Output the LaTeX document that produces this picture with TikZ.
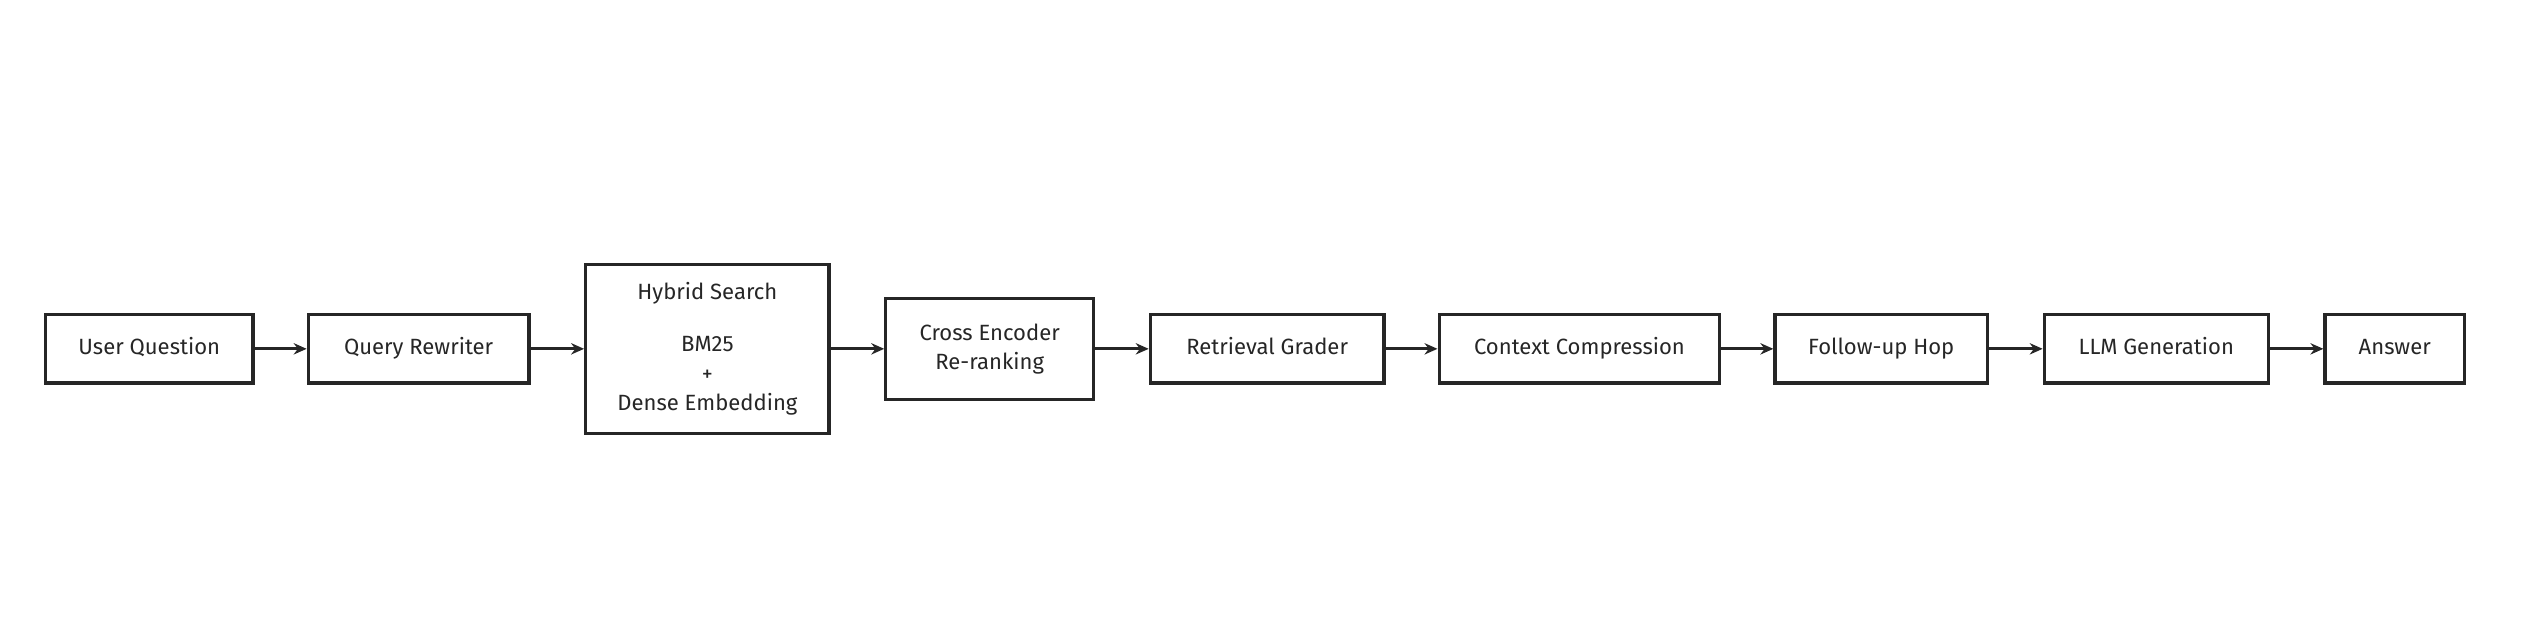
\documentclass[tikz,border=0pt]{standalone}
\usepackage{fontspec}
\setmainfont{Fira Sans}
\usetikzlibrary{arrows.meta}
\begin{document}
\begin{tikzpicture}[x=0.5pt,y=-0.5pt,
  box/.style={draw=black!85,line width=1pt,align=center,font=\fontsize{6.8}{9}\selectfont,text=black!85},
  one/.style={text height=5pt,text depth=1.5pt},
  arr/.style={draw=black!85,line width=1pt,-{Stealth[length=4pt,width=3.5pt]}}]
\useasboundingbox (0,0) rectangle (1568,387);
\def\bx#1#2#3#4#5#6#7{\node[box,#7,minimum width=(#3-#2)*0.5pt,minimum height=(#5-#4)*0.5pt] (#1) at ({(#2+#3)/2},{(#4+#5)/2}) {#6};}
\bx{uq}{28}{156}{194}{236}{User Question}{one}
\bx{qr}{190}{326}{194}{236}{Query Rewriter}{one}
\bx{hs}{361}{511}{163}{267}{Hybrid Search\\[7pt]BM25\\+\\Dense Embedding}{}
\bx{ce}{546}{674}{184}{246}{Cross Encoder\\Re-ranking}{}
\bx{rg}{709}{853}{194}{236}{Retrieval Grader}{one}
\bx{cc}{887}{1060}{194}{236}{Context Compression}{one}
\bx{fh}{1094}{1225}{194}{236}{Follow-up Hop}{one}
\bx{lg}{1260}{1398}{194}{236}{LLM Generation}{one}
\bx{an}{1433}{1519}{194}{236}{Answer}{one}
\foreach \a/\b in {uq/qr,qr/hs,hs/ce,ce/rg,rg/cc,cc/fh,fh/lg,lg/an}
  \draw[arr] (\a.east) -- (\b.west);
\end{tikzpicture}
\end{document}
